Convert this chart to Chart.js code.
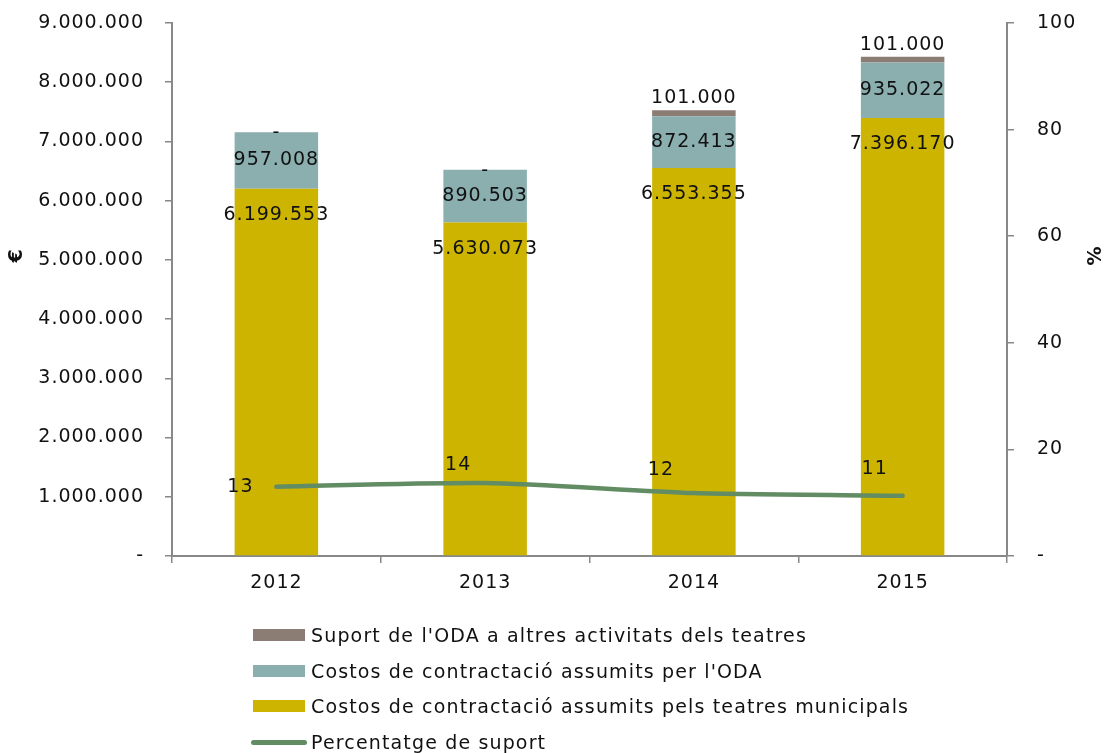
<!DOCTYPE html>
<html>
<head>
<meta charset="utf-8">
<script src="https://cdn.jsdelivr.net/npm/chart.js@4.4.1/dist/chart.umd.min.js"></script>
<style>
  html, body { margin: 0; padding: 0; background: #fff; }
  #wrap { position: relative; width: 1109px; height: 753px; }
  canvas { position: absolute; left: 0; top: 0; }
  .lg { position: absolute; left: 0; top: 0; font-family: "DejaVu Sans", Verdana, sans-serif; font-size: 19px; letter-spacing: 1.15px; color: #111; }
  .row { position: absolute; left: 251px; height: 24px; display: flex; align-items: center; white-space: nowrap; }
  .sw { width: 52px; height: 12px; margin-left: 2px; margin-right: 6px; }
  .ln { width: 56px; height: 5px; border-radius: 3px; margin-right: 4px; }
</style>
</head>
<body>
<div id="wrap">
  <canvas id="c" width="1109" height="753"></canvas>
  <div class="lg" id="legend"></div>
</div>
<script>
// ---- data ----
const years = ['2012', '2013', '2014', '2015'];
const costsTheatres = [6199553, 5630073, 6553355, 7396170];
const costsODA = [957008, 890503, 872413, 935022];
const otherSupport = [0, 0, 101000, 101000];
const supportPct = [13.0, 13.7, 11.8, 11.3];
const leftTicks = [0, 1000000, 2000000, 3000000, 4000000, 5000000, 6000000, 7000000, 8000000, 9000000];
const rightTicks = [0, 20, 40, 60, 80, 100];

const seriesNames = {
  other: "Suport de l'ODA a altres activitats dels teatres",
  oda: "Costos de contractació assumits per l'ODA",
  theatres: "Costos de contractació assumits pels teatres municipals",
  pct: "Percentatge de suport"
};

// ---- styles ----
const FONT = '"DejaVu Sans", Verdana, sans-serif';
const FS = 19;
const LS = '1px';
const C_YELLOW = '#CDB400';
const C_TEAL = '#8BAEAF';
const C_BROWN = '#8B7C74';
const C_LINE = '#628C63';
const C_AXIS = '#888888';
const TXT = '#111111';
// label offsets for percentage labels (px)
const pctLabelOffsets = [[-36, 0], [-27, -18], [-33, -23], [-28, -27]];

function fmt(v) {
  if (v === 0) return '-';
  return Math.round(v).toString().replace(/\B(?=(\d{3})+(?!\d))/g, '.');
}

const spacingPlugin = {
  id: 'spacing',
  beforeUpdate(chart) { chart.ctx.letterSpacing = LS; },
  beforeDraw(chart) { chart.ctx.letterSpacing = LS; }
};

const labelPlugin = {
  id: 'labels',
  afterDatasetsDraw(chart) {
    const ctx = chart.ctx;
    ctx.save();
    ctx.letterSpacing = LS;
    ctx.font = FS + 'px ' + FONT;
    ctx.fillStyle = TXT;
    ctx.textAlign = 'center';
    ctx.textBaseline = 'middle';
    chart.data.datasets.forEach((ds, di) => {
      const meta = chart.getDatasetMeta(di);
      meta.data.forEach((el, i) => {
        const v = ds.data[i];
        const p = el.getProps(['x', 'y', 'base'], true);
        let x = p.x, y;
        if (ds.role === 'theatres') {
          y = p.y + 26;
        } else if (ds.role === 'oda') {
          y = (p.y + p.base) / 2;
        } else if (ds.role === 'other') {
          y = v === 0 ? p.y + 1 : p.y - 12;
        } else if (ds.role === 'pct') {
          const o = pctLabelOffsets[i];
          x = p.x + o[0];
          y = p.y + o[1];
          ctx.fillText(String(Math.round(v)), x, y);
          return;
        }
        ctx.fillText(fmt(v), x, y);
      });
    });
    // axis titles
    ctx.font = 'bold ' + FS + 'px ' + FONT;
    ctx.letterSpacing = '0px';
    const cy = 256;
    ctx.save();
    ctx.translate(17, cy);
    ctx.rotate(-Math.PI / 2);
    ctx.fillText('€', 0, 0);
    ctx.restore();
    ctx.save();
    ctx.translate(1096, cy);
    ctx.rotate(-Math.PI / 2);
    ctx.fillText('%', 0, 0);
    ctx.restore();
    ctx.restore();
  }
};

const tickFont = { family: FONT, size: FS };

const chart = new Chart(document.getElementById('c'), {
  type: 'bar',
  data: {
    labels: years,
    datasets: [
      {
        type: 'line', role: 'pct', label: seriesNames.pct, data: supportPct, yAxisID: 'y1',
        borderColor: C_LINE, backgroundColor: C_LINE, borderWidth: 4.5, pointRadius: 0,
        tension: 0.25, borderCapStyle: 'round', order: 0
      },
      { role: 'theatres', label: seriesNames.theatres, data: costsTheatres, backgroundColor: C_YELLOW, yAxisID: 'y', stack: 's', order: 1 },
      { role: 'oda', label: seriesNames.oda, data: costsODA, backgroundColor: C_TEAL, yAxisID: 'y', stack: 's', order: 1 },
      { role: 'other', label: seriesNames.other, data: otherSupport, backgroundColor: C_BROWN, yAxisID: 'y', stack: 's', order: 1 }
    ]
  },
  options: {
    responsive: false,
    animation: false,
    layout: { padding: { top: 23, bottom: 157, left: 0, right: 0 } },
    datasets: { bar: { categoryPercentage: 1, barPercentage: 0.4 } },
    plugins: { legend: { display: false }, tooltip: { enabled: false } },
    scales: {
      x: {
        stacked: true,
        offset: true,
        grid: { offset: true, drawOnChartArea: false, drawTicks: true, tickLength: 7, color: C_AXIS, lineWidth: 1.5 },
        border: { display: true, color: C_AXIS, width: 2 },
        ticks: { font: tickFont, color: TXT, padding: 9, maxRotation: 0 },
        afterFit(s) { s.height = 40; s.paddingLeft = 0; s.paddingRight = 0; }
      },
      y: {
        stacked: true,
        position: 'left',
        min: 0, max: 9000000,
        afterBuildTicks(s) { s.ticks = leftTicks.map(v => ({ value: v })); },
        grid: { drawOnChartArea: false, drawTicks: true, tickLength: 7, color: C_AXIS, lineWidth: 1.5 },
        border: { display: true, color: C_AXIS, width: 2 },
        ticks: { font: tickFont, color: TXT, padding: 21, callback: v => fmt(v) },
        afterFit(s) { s.width = 172; s.paddingTop = 0; s.paddingBottom = 0; }
      },
      y1: {
        stacked: false,
        position: 'right',
        min: 0, max: 100,
        afterBuildTicks(s) { s.ticks = rightTicks.map(v => ({ value: v })); },
        grid: { drawOnChartArea: false, drawTicks: true, tickLength: 7, color: C_AXIS, lineWidth: 1.5 },
        border: { display: true, color: C_AXIS, width: 2 },
        ticks: { font: tickFont, color: TXT, padding: 23, callback: v => fmt(v) },
        afterFit(s) { s.width = 102; s.paddingTop = 0; s.paddingBottom = 0; }
      }
    }
  },
  plugins: [spacingPlugin, labelPlugin]
});

// ---- HTML legend built from datasets ----
const legendOrder = ['other', 'oda', 'theatres', 'pct'];
const rowCenters = [635, 671, 706, 742];
const lg = document.getElementById('legend');
legendOrder.forEach((role, k) => {
  const ds = chart.data.datasets.find(d => d.role === role);
  const row = document.createElement('div');
  row.className = 'row';
  row.style.top = (rowCenters[k] - 12) + 'px';
  const mark = document.createElement('div');
  if (ds.type === 'line') { mark.className = 'ln'; mark.style.background = ds.borderColor; }
  else { mark.className = 'sw'; mark.style.background = ds.backgroundColor; }
  const t = document.createElement('span');
  t.textContent = ds.label;
  row.appendChild(mark);
  row.appendChild(t);
  lg.appendChild(row);
});
</script>
</body>
</html>
